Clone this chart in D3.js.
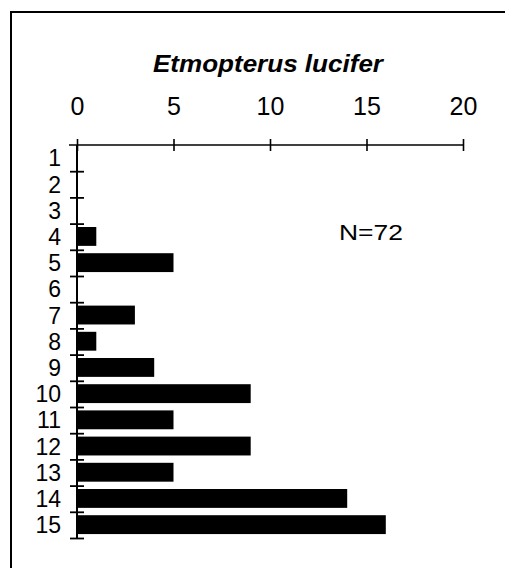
<!DOCTYPE html>
<html>
<head>
<meta charset="utf-8">
<script src="https://cdn.jsdelivr.net/npm/d3@7"></script>
<style>
  html, body { margin: 0; padding: 0; background: #fff; }
  svg { display: block; }
  text { font-family: "Liberation Sans", Arial, sans-serif; fill: #000; }
</style>
</head>
<body>
<svg id="chart" width="505" height="568"></svg>
<script>
const WIDTH = 505;
const HEIGHT = 568;

// data
const depthClasses = ["1","2","3","4","5","6","7","8","9","10","11","12","13","14","15"];
const counts = [0, 0, 0, 1, 5, 0, 3, 1, 4, 9, 5, 9, 5, 14, 16];
const xTicks = [0, 5, 10, 15, 20];
const title = "Etmopterus lucifer";
const note = "N=72";

const svg = d3.select("#chart");

// frame (top + left only, like the scan)
svg.append("line")
	.attr("x1", 10).attr("x2", WIDTH).attr("y1", 12).attr("y2", 12)
	.attr("stroke", "#000").attr("stroke-width", 2);
svg.append("line")
	.attr("x1", 11).attr("x2", 11).attr("y1", 12).attr("y2", HEIGHT)
	.attr("stroke", "#000").attr("stroke-width", 2);

const plotLeft = 77, plotRight = 463, plotTop = 145, plotBottom = 538;

const x = d3.scaleLinear().domain([0, 20]).range([plotLeft, plotRight]);
const y = d3.scaleBand().domain(depthClasses).range([plotTop, plotBottom]).padding(0);
// boundaries between classes, for the tick marks
const yEdge = d3.scaleLinear().domain([0, depthClasses.length]).range([plotTop, plotBottom]);

// bars
svg.append("g")
	.selectAll("rect")
	.data(depthClasses.map((d, i) => ({ cls: d, v: counts[i] })).filter(d => d.v > 0))
	.join("rect")
	.attr("x", x(0))
	.attr("y", d => y(d.cls) + y.bandwidth() * 0.13)
	.attr("width", d => x(d.v) - x(0))
	.attr("height", y.bandwidth() * 0.72)
	.attr("fill", "#000");

// top x axis
const xAxis = svg.append("g")
	.attr("transform", `translate(0,${plotTop})`)
	.call(d3.axisTop(x).tickValues(xTicks).tickSizeOuter(0).tickSizeInner(6).tickPadding(24));
xAxis.select(".domain").attr("d", `M${plotLeft - 8},0H${plotRight}`).attr("stroke-width", 1.6);
xAxis.selectAll(".tick line").attr("y1", -6).attr("y2", 6).attr("stroke-width", 1.6);
xAxis.selectAll(".tick text")
	.style("font-size", "25px")
	.style("font-family", "'Liberation Sans', Arial, sans-serif");

// left axis: crossing tick marks on the class boundaries
const yTickAxis = svg.append("g")
	.attr("transform", `translate(${plotLeft},0)`)
	.call(d3.axisLeft(yEdge).tickValues(d3.range(1, depthClasses.length + 1)).tickFormat("").tickSizeOuter(0));
yTickAxis.select(".domain").attr("d", `M0,${plotTop}V${plotBottom}`).attr("stroke-width", 2);
yTickAxis.selectAll(".tick line").attr("x1", -7).attr("x2", 7).attr("stroke-width", 1.8);

// left axis labels at class centres
const yLabels = svg.append("g")
	.attr("transform", `translate(${plotLeft},0)`)
	.call(d3.axisLeft(y).tickSize(0).tickPadding(16));
yLabels.select(".domain").remove();
yLabels.selectAll(".tick text")
	.attr("dy", "0.36em")
	.style("font-size", "23px")
	.style("font-family", "'Liberation Sans', Arial, sans-serif");

// title
svg.append("text")
	.attr("x", 268).attr("y", 72)
	.attr("text-anchor", "middle")
	.attr("textLength", 230)
	.attr("lengthAdjust", "spacingAndGlyphs")
	.style("font-size", "23px")
	.style("font-weight", "bold")
	.style("font-style", "italic")
	.text(title);

// sample size
svg.append("text")
	.attr("x", 339).attr("y", 240)
	.attr("textLength", 64)
	.attr("lengthAdjust", "spacingAndGlyphs")
	.style("font-size", "22px")
	.text(note);
</script>
</body>
</html>
